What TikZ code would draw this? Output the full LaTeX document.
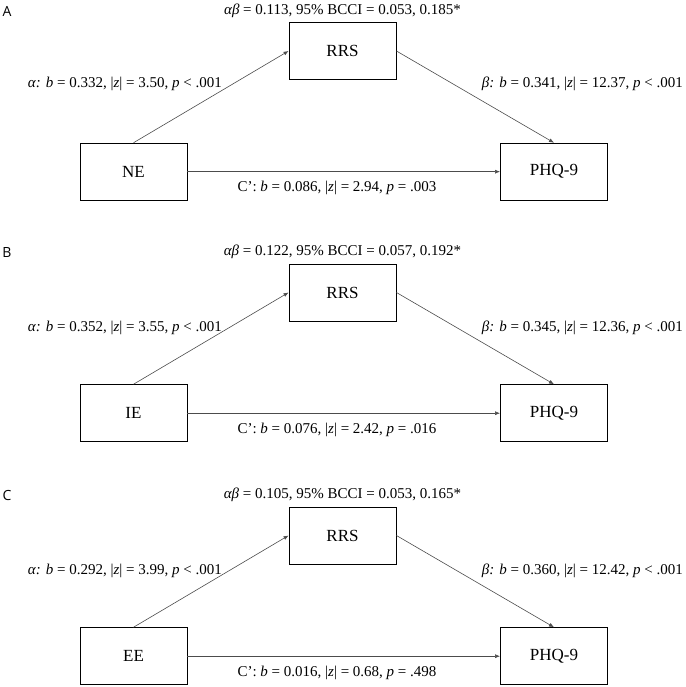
\documentclass[tikz,border=0pt]{standalone}
\usepackage{fontspec}
\setmainfont{Liberation Serif}
\newfontfamily\panelfont{Open Sans}
\usetikzlibrary{arrows.meta}

\begin{document}
\begin{tikzpicture}[x=1pt, y=-1pt,
	box/.style={draw=black, line width=0.9pt, minimum width=107pt, minimum height=57pt, inner sep=0pt, font=\fontsize{17}{17}\selectfont},
	path/.style={draw=black!70, line width=0.6pt, -{Latex[length=5pt, width=4pt]}},
	lbl/.style={inner sep=0pt, font=\fontsize{15}{16}\selectfont},
	panel/.style={inner sep=0pt, font=\panelfont\fontsize{14}{14}\selectfont}]
	\useasboundingbox (0,0) rectangle (685,687);

	% panel A
	\begin{scope}
	\node[panel] (labA) at (7,11) {A};
	\node[box] (rrsA) at (342.5,51) {RRS};
	\node[box] (neA) at (133.5,171.7) {NE};
	\node[box] (phqA) at (554,171.7) {PHQ-9};
	\node[lbl] (abA) at (342.5,10.5) {\textit{αβ} = 0.113, 95\% BCCI = 0.053, 0.185*};
	\node[lbl, anchor=east] (aA) at (222,84) {\textit{α: b} = 0.332, |\textit{z}| = 3.50, \textit{p} < .001};
	\node[lbl, anchor=east] (bA) at (683,84) {\textit{β: b} = 0.341, |\textit{z}| = 12.37, \textit{p} < .001};
	\node[lbl] (cA) at (337,188) {C’: \textit{b} = 0.086, |\textit{z}| = 2.94, \textit{p} = .003};
	\draw[path] (neA.north) -- (rrsA.west);
	\draw[path] (rrsA.east) -- (phqA.north);
	\draw[path] (neA.east) -- (phqA.west);
	\end{scope}

	% panel B
	\begin{scope}[yshift=-241.5pt]
	\node[panel] (labB) at (7,11) {B};
	\node[box] (rrsB) at (342.5,51) {RRS};
	\node[box] (ieB) at (133.5,171.7) {IE};
	\node[box] (phqB) at (554,171.7) {PHQ-9};
	\node[lbl] (abB) at (342.5,10.5) {\textit{αβ} = 0.122, 95\% BCCI = 0.057, 0.192*};
	\node[lbl, anchor=east] (aB) at (222,86) {\textit{α: b} = 0.352, |\textit{z}| = 3.55, \textit{p} < .001};
	\node[lbl, anchor=east] (bB) at (683,86) {\textit{β: b} = 0.345, |\textit{z}| = 12.36, \textit{p} < .001};
	\node[lbl] (cB) at (337,188.5) {C’: \textit{b} = 0.076, |\textit{z}| = 2.42, \textit{p} = .016};
	\draw[path] (ieB.north) -- (rrsB.west);
	\draw[path] (rrsB.east) -- (phqB.north);
	\draw[path] (ieB.east) -- (phqB.west);
	\end{scope}

	% panel C
	\begin{scope}[yshift=-484.5pt]
	\node[panel] (labC) at (7,11) {C};
	\node[box] (rrsC) at (342.5,51) {RRS};
	\node[box] (eeC) at (133.5,171.7) {EE};
	\node[box] (phqC) at (554,171.7) {PHQ-9};
	\node[lbl] (abC) at (342.5,10.5) {\textit{αβ} = 0.105, 95\% BCCI = 0.053, 0.165*};
	\node[lbl, anchor=east] (aC) at (222,86) {\textit{α: b} = 0.292, |\textit{z}| = 3.99, \textit{p} < .001};
	\node[lbl, anchor=east] (bC) at (683,86) {\textit{β: b} = 0.360, |\textit{z}| = 12.42, \textit{p} < .001};
	\node[lbl] (cC) at (337,188.5) {C’: \textit{b} = 0.016, |\textit{z}| = 0.68, \textit{p} = .498};
	\draw[path] (eeC.north) -- (rrsC.west);
	\draw[path] (rrsC.east) -- (phqC.north);
	\draw[path] (eeC.east) -- (phqC.west);
	\end{scope}
\end{tikzpicture}
\end{document}
